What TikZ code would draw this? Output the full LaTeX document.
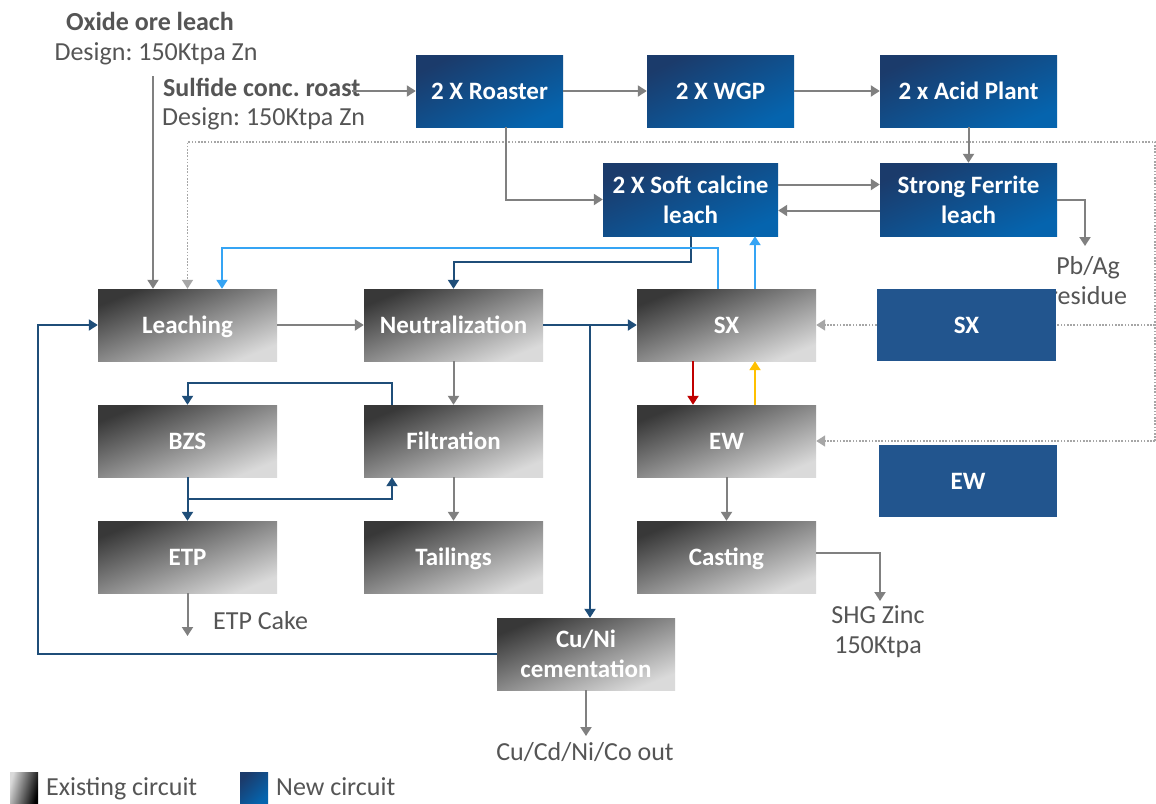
\documentclass[tikz,border=0pt]{standalone}
\usepackage{fontspec}
\setmainfont{Carlito}
\frenchspacing
\usetikzlibrary{arrows.meta,calc}
\pgfdeclarelayer{bg}
\pgfdeclarelayer{back}
\pgfsetlayers{bg,back,main}
\definecolor{flowgray}{HTML}{808080}
\definecolor{navy}{HTML}{1F4E79}
\definecolor{skyblue}{HTML}{35A4F4}
\definecolor{redline}{HTML}{C00000}
\definecolor{amber}{HTML}{FFC000}
\definecolor{labelgray}{HTML}{555555}
\definecolor{greydark}{HTML}{383838}
\definecolor{greylight}{HTML}{DADADA}
\definecolor{bluedark}{HTML}{1B3B6B}
\definecolor{bluelight}{HTML}{0564AE}
\definecolor{blueflat}{HTML}{22558E}
\definecolor{dotgray}{HTML}{A6A6A6}
\tikzset{
  x=1pt, y=-1pt,
  boxtext/.style={text=white, font=\fontsize{25}{30}\selectfont\bfseries, align=center, inner sep=0pt},
  oneline/.style={text height=21pt, text depth=5pt},
  oldfill/.style={top color=greydark, bottom color=greylight, shading angle=22},
  newfill/.style={top color=bluedark, bottom color=bluelight, shading angle=24},
  oldbox/.style={boxtext, oldfill, minimum width=179pt, minimum height=72pt},
  newbox/.style={boxtext, newfill, minimum height=72pt},
  flatbox/.style={boxtext, oneline, fill=blueflat, minimum width=179pt, minimum height=72pt},
  lbl/.style={text=labelgray, font=\fontsize{26}{30}\selectfont, align=center, inner sep=0pt},
  lblone/.style={lbl, text height=22pt, text depth=5pt},
  lblbold/.style={lblone, font=\fontsize{26}{30}\selectfont\bfseries},
  arrowtip/.style={-{Triangle[width=11pt,length=9pt]}},
  grayarrow/.style={arrowtip, flowgray, line width=2pt},
  navyarrow/.style={arrowtip, navy, line width=2pt},
  skyarrow/.style={arrowtip, skyblue, line width=2pt},
  redarrow/.style={arrowtip, redline, line width=2pt},
  amberarrow/.style={arrowtip, amber, line width=2pt},
  dotarrow/.style={arrowtip, dotgray, line width=1.6pt, dash pattern=on 1.6pt off 1.6pt},
}
\begin{document}
\begin{tikzpicture}
\begin{pgfonlayer}{bg}
  \fill[white] (0,0) rectangle (1156,803);
\end{pgfonlayer}
\useasboundingbox (0,0) rectangle (1156,803);

% new circuit: roasting and calcine leaching
\node[newbox, oneline, minimum width=147pt, shading angle=26] (roaster) at (489.5,91) {2 X Roaster};
\node[newbox, oneline, minimum width=147pt, shading angle=26] (wgp) at (720.5,91) {2 X WGP};
\node[newbox, oneline, minimum width=177pt] (acid) at (968.5,91) {2 x Acid Plant};
\node[newbox, minimum width=175pt, minimum height=73pt] (soft) at (690.5,199.5) {2 X Soft calcine\\leach};
\node[newbox, minimum width=177pt, minimum height=73pt] (ferr) at (968.5,199.5) {Strong Ferrite\\leach};

% existing circuit
\node[oldbox, oneline] (leach) at (187.5,325) {Leaching};
\node[oldbox, oneline] (neut) at (453.5,325) {Neutralization};
\node[oldbox, oneline] (sxg) at (726.5,325) {SX};
\node[oldbox, oneline] (bzs) at (187.5,441) {BZS};
\node[oldbox, oneline] (filt) at (453.5,441) {Filtration};
\node[oldbox, oneline] (ewg) at (726.5,441) {EW};
\node[oldbox, oneline] (etp) at (187.5,557) {ETP};
\node[oldbox, oneline] (tail) at (453.5,557) {Tailings};
\node[oldbox, oneline] (cast) at (726.5,557) {Casting};
\node[oldbox, minimum width=178pt] (cuni) at (586,654) {Cu/Ni\\cementation};

% new SX / EW trains
\node[flatbox] (sxb) at (966.5,325) {SX};
\node[flatbox, minimum width=178pt] (ewb) at (968,481) {EW};

% feed and product labels
\node[lblbold] (oxide) at (150,22) {Oxide ore leach};
\node[lblone] (oxdesign) at (156,52) {Design: 150Ktpa Zn};
\node[lblbold, anchor=west] (sulf) at (163,88) {Sulfide conc. roast};
\node[lblone, anchor=west] (sudesign) at (162,117) {Design: 150Ktpa Zn};
\node[lblone, anchor=west] (cake) at (213,621) {ETP Cake};
\node[lbl] (shg) at (878,632) {SHG Zinc\\150Ktpa};
\node[lblone] (cuout) at (585,752) {Cu/Cd/Ni/Co out};

% legend
\node[inner sep=0pt, minimum width=28pt, minimum height=31pt, top color=black, bottom color=greylight, shading angle=-105] (legold) at (24,787.5) {};
\node[lblone, anchor=west] (legoldtxt) at (46,787) {Existing circuit};
\node[inner sep=0pt, minimum width=28pt, minimum height=31pt, newfill, shading angle=45] (legnew) at (254,787.5) {};
\node[lblone, anchor=west] (legnewtxt) at (276,787) {New circuit};

% items drawn behind the new SX / EW boxes
\begin{pgfonlayer}{back}
  \node[lbl] (pbag) at (1088,281) {Pb/Ag\\residue};
  \coordinate (dtop) at (1155,142);
  \coordinate (dsx) at (1155,325);
  \coordinate (dew) at (1155,441);
  \draw[dotarrow] (dew) -- (dtop) -| (leach.north);
  \draw[dotarrow] (dsx) -- (sxg.east);
  \draw[dotarrow] (dew) -- (ewg.east);
\end{pgfonlayer}

% grey process flows
\coordinate (oxs) at (153,76);
\draw[grayarrow] (oxs) -- (oxs |- leach.north);
\coordinate (sus) at (352,91);
\draw[grayarrow] (sus) -- (roaster.west);
\draw[grayarrow] (roaster) -- (wgp);
\draw[grayarrow] (wgp) -- (acid);
\draw[grayarrow] ($(roaster.south)+(16,0)$) |- (soft.west);
\draw[grayarrow] (acid.south) -- (ferr.north);
\draw[grayarrow] ($(soft.east)+(0,-15)$) -- ($(ferr.west)+(0,-15)$);
\draw[grayarrow] ($(ferr.west)+(0,11)$) -- ($(soft.east)+(0,11)$);
\coordinate (pbend) at (1085,246);
\draw[grayarrow] (ferr.east) -| (pbend);
\draw[grayarrow] (leach) -- (neut);
\draw[grayarrow] (neut) -- (filt);
\draw[grayarrow] (filt) -- (tail);
\coordinate (cakeend) at (187.5,636);
\draw[grayarrow] (etp.south) -- (cakeend);
\draw[grayarrow] (ewg) -- (cast);
\coordinate (shgend) at (880,601);
\draw[grayarrow] ($(cast.east)+(0,-4)$) -| (shgend);
\coordinate (cuend) at (586,736);
\draw[grayarrow] (cuni.south) -- (cuend);

% new circuit solution flows
\draw[navyarrow] (soft.south) -- ++(0,26) -| (neut.north);
\draw[navyarrow] (neut) -- (sxg);
\coordinate (br) at ($(neut.east)!0.5!(sxg.west)$);
\draw[navyarrow] (br) -- (br |- cuni.north);
\draw[navyarrow] ($(filt.north)+(-61.5,0)$) -- ++(0,-22) -| (bzs.north);
\draw[navyarrow] (bzs) -- (etp);
\draw[navyarrow] ($(bzs.south)+(0,22)$) -| ($(filt.south)+(-61.5,0)$);
\coordinate (loopx) at (38,0);
\draw[navyarrow] (cuni.west) -| (loopx |- leach.west) -- (leach.west);

% raffinate returns
\draw[skyarrow] ($(sxg.north)+(-8.5,0)$) |- ($(leach.north)+(34.5,-41)$) -- ($(leach.north)+(34.5,0)$);
\coordinate (sxu) at ($(sxg.north)+(28.5,0)$);
\draw[skyarrow] (sxu) -- (sxu |- soft.south);

% loaded / spent electrolyte
\coordinate (sxd) at ($(sxg.south)+(-33.5,0)$);
\draw[redarrow] (sxd) -- (sxd |- ewg.north);
\coordinate (ewu) at ($(ewg.north)+(28.5,0)$);
\draw[amberarrow] (ewu) -- (ewu |- sxg.south);
\end{tikzpicture}
\end{document}
